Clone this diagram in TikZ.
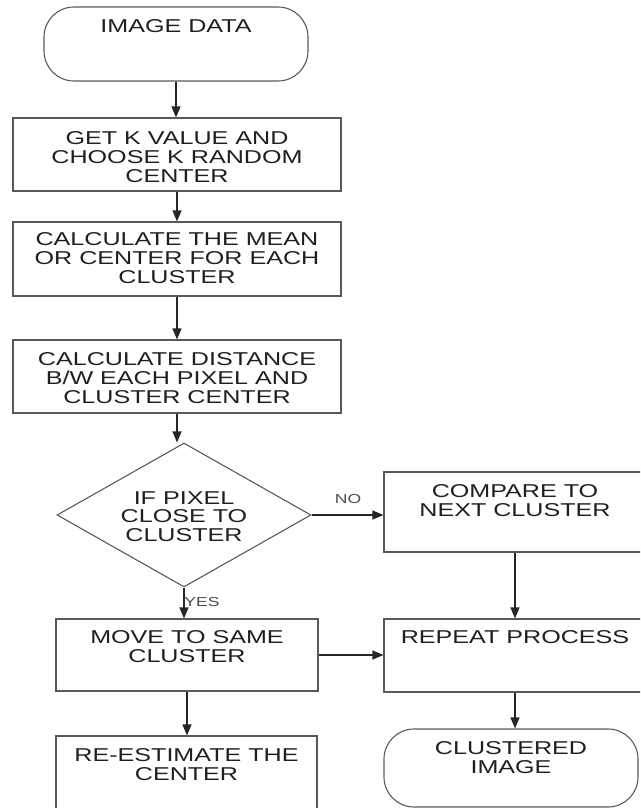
\documentclass[tikz,border=0pt]{standalone}
\usepackage{fontspec}
\setmainfont{Liberation Sans}[FakeStretch=1.35]
\usetikzlibrary{shapes.geometric,arrows.meta}
\begin{document}
\begin{tikzpicture}[x=1pt,y=-1pt,
  boxs/.style={draw=black!65, line width=1.1pt, inner sep=0pt, rectangle},
  term/.style={draw=black!65, line width=1.1pt, inner sep=0pt, rectangle, rounded corners=30pt},
  dec/.style={draw=black!65, line width=1.1pt, inner sep=0pt, diamond},
  txt/.style={inner sep=0pt, align=center, text=black!88, font=\fontsize{18.6}{18.7}\selectfont},
  lbl/.style={inner sep=0pt, text=black!70, font=\fontsize{13}{13}\selectfont},
  arr/.style={draw=black!85, line width=1.1pt, -{Triangle[length=11pt,width=9pt]}}]
\useasboundingbox (0,0) rectangle (640,808);
\clip (0,0) rectangle (640,808);

% shapes
\node[term, minimum width=264pt, minimum height=74pt] (t1) at (176,44) {};
\node[boxs, minimum width=328pt, minimum height=73pt] (b1) at (177,154.5) {};
\node[boxs, minimum width=328pt, minimum height=74pt] (b2) at (177,259) {};
\node[boxs, minimum width=328pt, minimum height=73pt] (b3) at (177,376.5) {};
\node[dec, minimum width=254pt, minimum height=144pt] (d) at (184,515) {};
\node[boxs, minimum width=262pt, minimum height=80pt] (cmp) at (515,512) {};
\node[boxs, minimum width=262pt, minimum height=72pt] (mv) at (187,655) {};
\node[boxs, minimum width=262pt, minimum height=73pt] (rp) at (515,655.5) {};
\node[boxs, minimum width=261pt, minimum height=80pt] (re) at (186.5,776) {};
\node[term, minimum width=254pt, minimum height=78pt] (cl) at (511,768) {};

% texts
\node[txt, anchor=north] (t1x) at ([yshift=-13pt]t1.north) {IMAGE DATA};
\node[txt, anchor=north] (b1x) at ([yshift=-14pt]b1.north) {GET K VALUE AND\\CHOOSE K RANDOM\\CENTER};
\node[txt, anchor=north] (b2x) at ([yshift=-11pt]b2.north) {CALCULATE THE MEAN\\OR CENTER FOR EACH\\CLUSTER};
\node[txt, anchor=north] (b3x) at ([yshift=-13pt]b3.north) {CALCULATE DISTANCE\\B/W EACH PIXEL AND\\CLUSTER CENTER};
\node[txt, anchor=center] (dx) at (184,516.5) {IF PIXEL\\CLOSE TO\\CLUSTER};
\node[txt, anchor=north] (cmpx) at ([yshift=-13pt]cmp.north) {COMPARE TO\\NEXT CLUSTER};
\node[txt, anchor=north] (mvx) at ([yshift=-12pt]mv.north) {MOVE TO SAME\\CLUSTER};
\node[txt, anchor=north] (rpx) at ([yshift=-12pt]rp.north) {REPEAT PROCESS};
\node[txt, anchor=north] (rex) at ([yshift=-13pt]re.north) {RE-ESTIMATE THE\\CENTER};
\node[txt, anchor=north] (clx) at ([yshift=-13pt]cl.north) {CLUSTERED\\IMAGE};

% labels
\node[lbl] (no) at (348,499.5) {NO};
\node[lbl] (yes) at (202,602) {YES};

% connectors
\draw[arr] (t1.south) -- (t1.south |- b1.north);
\draw[arr] (b1.south) -- (b2.north);
\draw[arr] (b2.south) -- (b3.north);
\draw[arr] (b3.south) -- (b3.south |- d.north);
\draw[arr] (d.east) -- (d.east -| cmp.west);
\draw[arr] (d.south) -- (d.south |- mv.north);
\draw[arr] (cmp.south) -- (rp.north);
\draw[arr] (mv.east) -- (mv.east -| rp.west);
\draw[arr] (mv.south) -- (mv.south |- re.north);
\draw[arr] (rp.south) -- (rp.south |- cl.north);
\end{tikzpicture}
\end{document}
